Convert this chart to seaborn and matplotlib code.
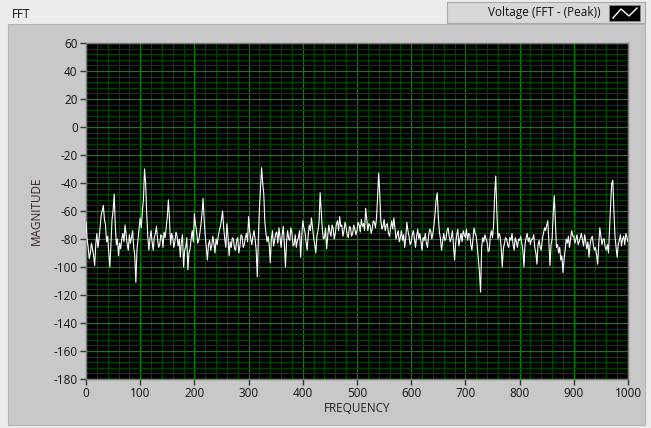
import numpy as np
import matplotlib
matplotlib.use("Agg")
import matplotlib.pyplot as plt
import seaborn as sns
from matplotlib.patches import Rectangle
from matplotlib.lines import Line2D
from matplotlib.ticker import MultipleLocator

# FFT bins, 2 Hz apart
freq_step = 2
freq = np.arange(0, 1001, freq_step)

# magnitude, one row per 100 Hz
magnitude = [
    -68, -80, -86, -94, -90, -83, -87, -92, -99, -84, -76, -86, -80, -72, -63, -60, -56, -66, -70, -82, -78, -90, -100, -84, -66,
    -60, -48, -70, -84, -80, -92, -83, -87, -80, -76, -82, -70, -77, -84, -88, -77, -83, -79, -74, -86, -92, -111, -88, -80, -72,
    -65, -72, -60, -52, -30, -40, -62, -78, -88, -80, -74, -82, -88, -79, -76, -71, -80, -86, -84, -77, -78, -86, -75, -79, -72,
    -64, -52, -66, -84, -76, -79, -86, -82, -75, -78, -85, -80, -93, -82, -77, -100, -88, -86, -79, -102, -90, -87, -80, -74, -82,
    -62, -70, -74, -83, -81, -76, -70, -62, -51, -66, -78, -86, -95, -84, -81, -88, -85, -78, -83, -90, -80, -84, -78, -74, -71,
    -66, -60, -72, -80, -86, -69, -78, -92, -82, -86, -79, -80, -87, -88, -81, -79, -90, -85, -77, -78, -86, -84, -79, -76, -82,
    -64, -74, -80, -84, -78, -74, -80, -88, -107, -80, -58, -44, -29, -40, -48, -68, -76, -82, -78, -84, -97, -80, -74, -85, -81,
    -76, -75, -83, -72, -79, -86, -77, -71, -84, -100, -82, -74, -80, -81, -72, -76, -85, -84, -77, -86, -81, -79, -74, -93, -78,
    -67, -72, -75, -82, -88, -77, -70, -74, -65, -72, -79, -84, -90, -78, -74, -68, -47, -60, -73, -80, -79, -72, -87, -78, -70,
    -75, -78, -70, -72, -80, -76, -69, -67, -74, -64, -71, -70, -78, -74, -68, -72, -77, -79, -71, -72, -78, -76, -70, -73, -77,
    -74, -68, -70, -75, -66, -71, -69, -74, -58, -66, -74, -69, -70, -76, -73, -67, -68, -72, -65, -50, -33, -48, -67, -73, -71,
    -66, -74, -70, -69, -76, -78, -72, -67, -73, -65, -72, -80, -77, -74, -82, -79, -74, -81, -77, -86, -79, -68, -74, -78, -84,
    -82, -77, -74, -80, -86, -78, -73, -80, -76, -82, -88, -79, -81, -76, -83, -86, -78, -73, -74, -80, -76, -70, -62, -52, -47,
    -64, -75, -80, -88, -82, -76, -81, -80, -74, -72, -78, -82, -79, -74, -84, -95, -83, -77, -73, -85, -80, -76, -82, -74, -77,
    -79, -73, -81, -76, -77, -84, -88, -80, -72, -76, -78, -86, -95, -104, -118, -86, -79, -82, -77, -80, -82, -89, -88, -78, -74,
    -79, -70, -48, -35, -60, -80, -76, -78, -86, -100, -87, -83, -79, -80, -84, -86, -79, -81, -76, -84, -88, -79, -82, -86, -80,
    -81, -78, -83, -88, -100, -84, -79, -76, -82, -79, -84, -80, -80, -77, -86, -90, -98, -84, -81, -86, -88, -80, -76, -72, -74,
    -70, -67, -82, -99, -84, -80, -62, -49, -68, -86, -84, -90, -86, -95, -92, -104, -95, -88, -80, -83, -78, -86, -80, -74, -78,
    -78, -83, -80, -77, -84, -82, -79, -76, -81, -85, -77, -82, -87, -82, -93, -84, -80, -78, -84, -88, -86, -91, -98, -84, -72,
    -78, -84, -80, -80, -86, -88, -84, -90, -72, -55, -40, -38, -60, -78, -86, -93, -84, -81, -77, -85, -80, -78, -84, -76, -79,
    -82,
]

x_ticks = list(range(0, 1001, 100))
y_ticks = list(range(-180, 61, 20))

plt.rcParams['font.family'] = ['Open Sans', 'DejaVu Sans']
plt.rcParams['axes.unicode_minus'] = False

W, H = 651, 428
fig = plt.figure(figsize=(W / 100, H / 100), dpi=100)
fig.patch.set_facecolor('#ececec')

def px(x0, y0, x1, y1):
    # pixel box (top-left origin) -> figure fraction rect
    return (x0 / W, 1 - y1 / H), (x1 - x0) / W, (y1 - y0) / H

# gray graph panel
xy, w, h = px(8, 24, 645, 425)
fig.add_artist(Rectangle(xy, w, h, transform=fig.transFigure, facecolor='#c8c8c8', edgecolor='#b4b4b4', lw=0.8, zorder=0))

# plot legend box in the header
xy, w, h = px(447, 2, 645, 23)
fig.add_artist(Rectangle(xy, w, h, transform=fig.transFigure, facecolor='#d8d8d8', edgecolor='#a8a8a8', lw=0.8, zorder=1))
xy, w, h = px(609, 5, 640, 21)
fig.add_artist(Rectangle(xy, w, h, transform=fig.transFigure, facecolor='black', edgecolor='#888888', lw=0.6, zorder=2))
icon_x = [613, 621, 629, 637]
icon_y = [18, 9, 16, 8]
fig.add_artist(Line2D([v / W for v in icon_x], [1 - v / H for v in icon_y], transform=fig.transFigure, color='white', lw=1.0, zorder=3))
fig.text(601 / W, 1 - 12.5 / H, 'Voltage (FFT - (Peak))', ha='right', va='center', fontsize=8.5, color='#111111')
fig.text(12 / W, 1 - 14 / H, 'FFT', ha='left', va='center', fontsize=8.5, color='#111111')

ax = fig.add_axes([86 / W, 1 - 379 / H, 542 / W, 336 / H])
ax.set_facecolor('black')
sns.lineplot(x=freq, y=magnitude, color='white', lw=0.8, ax=ax, zorder=3)

ax.set_xlim(0, 1000)
ax.set_ylim(-180, 60)
ax.set_xticks(x_ticks)
ax.set_yticks(y_ticks)
ax.xaxis.set_minor_locator(MultipleLocator(20))
ax.yaxis.set_minor_locator(MultipleLocator(4))
ax.grid(which='major', color='#008800', lw=0.9)
ax.grid(which='minor', color='#004400', lw=0.8)
ax.set_axisbelow(True)
ax.tick_params(which='major', length=4, width=1, color='#333333', labelcolor='#111111', labelsize=8.5, pad=2)
ax.tick_params(which='minor', length=0)
for s in ax.spines.values():
    s.set_color('#7a7a7a')
    s.set_linewidth(1)

ax.set_xlabel('FREQUENCY', fontsize=8.5, color='#222222', labelpad=1)
ax.set_ylabel('MAGNITUDE', fontsize=8.5, color='#3a2222', labelpad=8)

fig.savefig('out.png', dpi=100, facecolor=fig.get_facecolor())
